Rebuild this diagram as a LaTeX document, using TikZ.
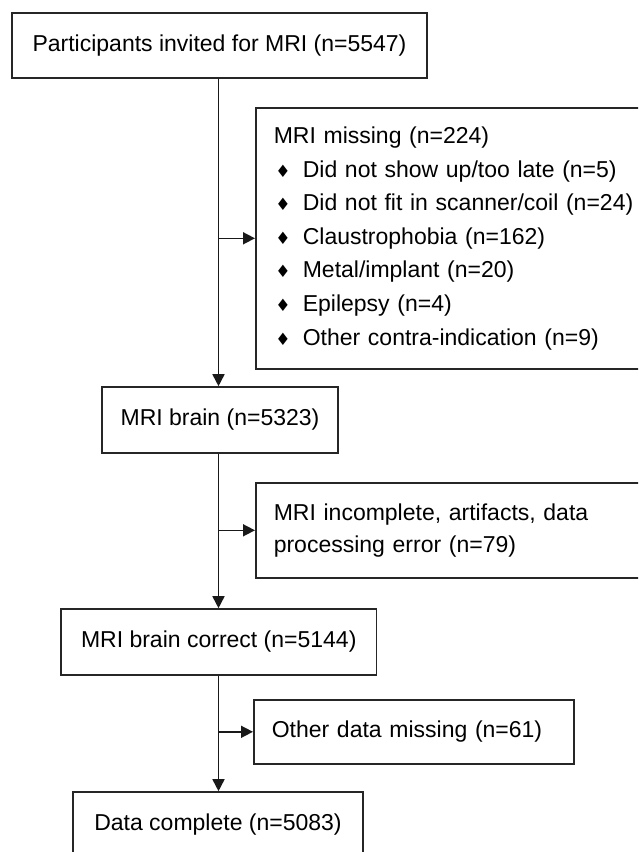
\documentclass[tikz,border=0pt]{standalone}
\usepackage{fontspec}
\setmainfont{Liberation Sans}
\newfontfamily\symf{DejaVu Sans}
\usetikzlibrary{arrows.meta}
\newcommand{\bitem}[1]{\makebox[29pt][l]{\hspace{1.5pt}{\symf\fontsize{17}{17}\selectfont ♦}}#1}
\begin{document}
\begin{tikzpicture}[x=1pt,y=-1pt,
  box/.style={draw=black!85, line width=1.6pt, rectangle, inner sep=0pt, font=\fontsize{23}{33.6}\selectfont},
  arr/.style={draw=black!90, line width=1.6pt, -{Triangle[length=12pt,width=12pt]}}]
\useasboundingbox (0,0) rectangle (638,852);
\clip (0,0) rectangle (638,852);
\fill[white] (0,0) rectangle (638,852);
\node[box, minimum width=415pt, minimum height=65pt] (b1) at (219.5,45.5) {Participants invited for MRI (n=5547)};
\node[box, anchor=north west, minimum height=261pt, text width=374pt, align=left, inner xsep=18pt] (miss) at (255,107)
  {MRI missing (n=224)\\
   \bitem{Did not show up/too late (n=5)}\\
   \bitem{Did not fit in scanner/coil (n=24)}\\
   \bitem{Claustrophobia (n=162)}\\
   \bitem{Metal/implant (n=20)}\\
   \bitem{Epilepsy (n=4)}\\
   \bitem{Other contra-indication (n=9)}};
\node[box, minimum width=236pt, minimum height=66pt] (b2) at (220,420) {MRI brain (n=5323)};
\node[box, anchor=north west, minimum height=95pt, text width=374pt, align=left, inner xsep=18pt, font=\fontsize{23}{32}\selectfont] (inc) at (255,482)
  {MRI incomplete, artifacts, data\\processing error (n=79)};
\node[box, minimum width=315.5pt, minimum height=66pt] (b3) at (218.75,642) {MRI brain correct (n=5144)};
\node[box, anchor=north west, minimum height=64pt, text width=284pt, align=left, inner xsep=18pt] (oth) at (253,699) {Other data missing (n=61)};
\node[box, minimum width=290pt, minimum height=65pt] (b4) at (218,824.5) {Data complete (n=5083)};
\coordinate (sp) at (218.5,0);
\draw[arr] (b1.south -| sp) -- (b2.north -| sp);
\draw[arr] (b2.south -| sp) -- (b3.north -| sp);
\draw[arr] (b3.south -| sp) -- (b4.north -| sp);
\draw[arr] (sp |- miss.west) -- (miss.west);
\draw[arr] (sp |- inc.west) -- (inc.west);
\draw[arr] (sp |- oth.west) -- (oth.west);
\end{tikzpicture}
\end{document}
